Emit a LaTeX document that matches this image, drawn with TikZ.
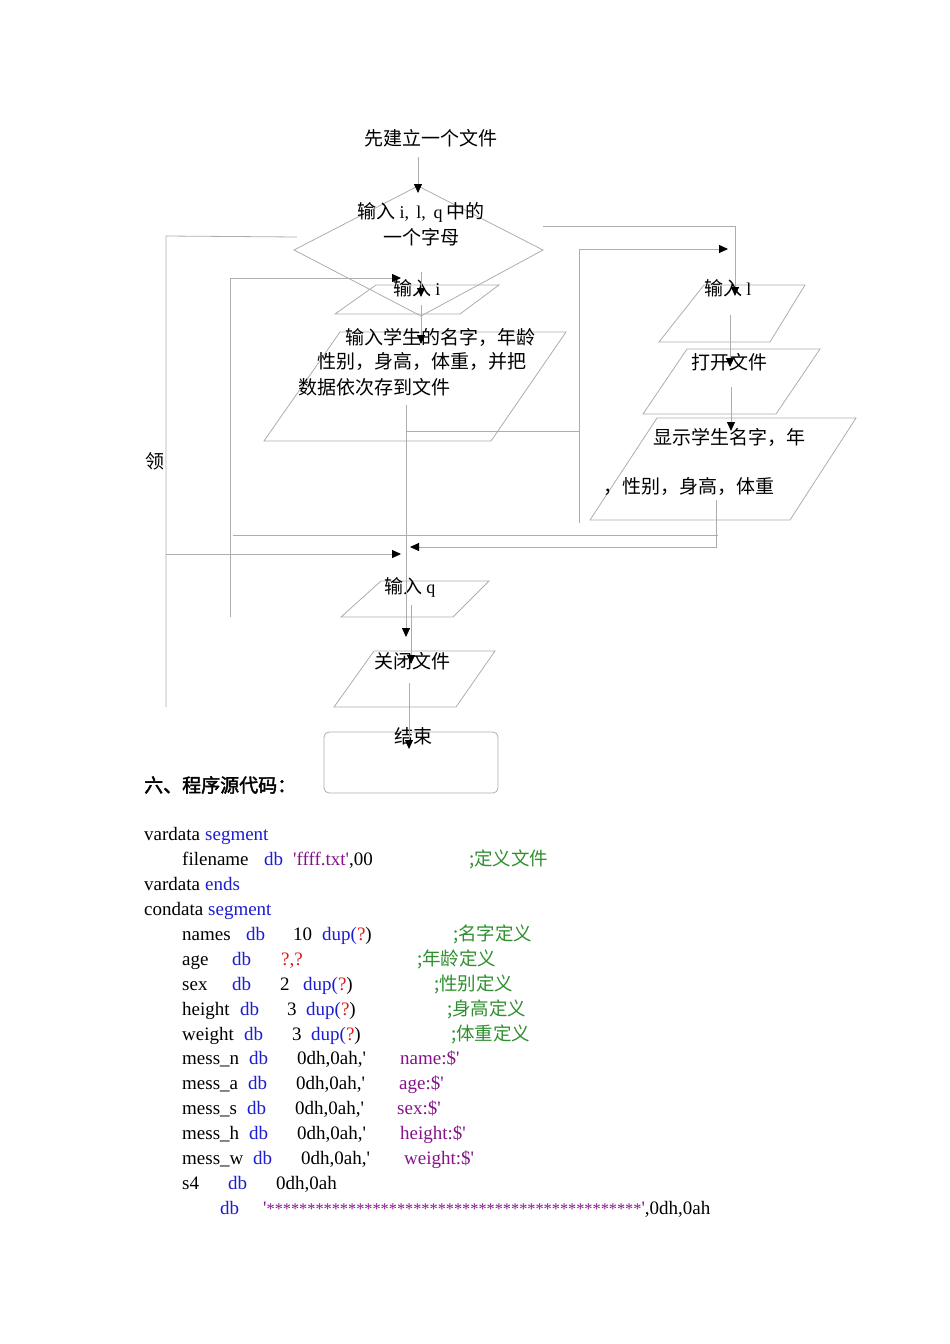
\documentclass[tikz,border=0pt]{standalone}
\usepackage{fontspec}
\setmainfont{Liberation Serif}[Ligatures=TeXOff]
\newfontfamily\cjk{Noto Sans CJK SC}
\newfontfamily\cjkbold[FakeBold=2]{Noto Sans CJK SC}
\newfontfamily\lat{Liberation Serif}[Ligatures=TeXOff]
\usetikzlibrary{arrows.meta}
\definecolor{ln}{HTML}{ADADAD}
\definecolor{kw}{HTML}{1C1CD0}
\definecolor{st}{HTML}{85128A}
\definecolor{cm}{HTML}{2F8F2F}
\definecolor{qm}{HTML}{E01818}
\tikzset{
  wire/.style={draw=ln,line width=0.8pt},
  arr/.style={wire,-{Triangle[length=9pt,width=8pt,color=black]}},
  shapeline/.style={draw=ln,line width=0.8pt},
  ftxt/.style={inner sep=0pt,font=\cjk\fontsize{19}{22}\selectfont},
  ftxtw/.style={ftxt,anchor=west},
  code/.style={anchor=west,inner sep=0pt,font=\fontsize{19}{22}\selectfont,text height=13pt,text depth=4pt},
  cmt/.style={code,font=\cjk\fontsize{18.5}{21}\selectfont,text=cm},
}
\newcommand\dupq{\textcolor{kw}{dup(}\textcolor{qm}{?})}
\newcommand\fl[1]{{\lat\fontsize{18}{20}\selectfont #1}}
\begin{document}
\begin{tikzpicture}[x=1pt,y=-1pt]
\useasboundingbox (0,0) rectangle (950,1344);
% ---------- shapes ----------
\coordinate (dT) at (418,186); \coordinate (dL) at (294,250);
\coordinate (dR) at (543,250); \coordinate (dB) at (421,316);
\draw[shapeline] (dT) -- (dR) -- (dB) -- (dL) -- cycle;
\draw[shapeline] (376,285) -- (499,285) -- (460,314) -- (335,314) -- cycle;
\draw[shapeline] (340,332) -- (566,332) -- (491,441) -- (264,441) -- cycle;
\draw[shapeline] (704,285) -- (805,285) -- (770,342) -- (659,342) -- cycle;
\draw[shapeline] (687,349) -- (820,349) -- (776,414) -- (643,414) -- cycle;
\draw[shapeline] (657,418) -- (856,418) -- (790,520) -- (590,520) -- cycle;
\draw[shapeline] (381,581) -- (489,581) -- (453,617) -- (341,617) -- cycle;
\draw[shapeline] (374,651) -- (495,651) -- (456,707) -- (334,707) -- cycle;
\draw[shapeline,rounded corners=5pt] (324,732) rectangle (498,793);
% ---------- texts ----------
\node[ftxt] (start) at (431,138) {先建立一个文件};
\node[ftxt] (dec1) at (421,212) {输入\ \fl{i,\ \,l,\ \,q}\ 中的};
\node[ftxt] (dec2) at (421,237) {一个字母};
\node[ftxtw] (ini) at (393,288) {输入\ \fl{i}};
\node[ftxtw] (stu1) at (345,337) {输入学生的名字，年龄};
\node[ftxtw] (stu2) at (317,362) {性别，身高，体重，并把};
\node[ftxtw] (stu3) at (298,387) {数据依次存到文件};
\node[ftxtw] (inl) at (704,288) {输入\ \fl{l}};
\node[ftxtw] (open) at (691,362) {打开文件};
\node[ftxtw] (disp1) at (653,437) {显示学生名字，年};
\node[ftxtw] (disp2) at (603,487) {，性别，身高，体重};
\node[ftxtw] (inq) at (384,587) {输入\ \fl{q}};
\node[ftxtw] (close) at (374,661) {关闭文件};
\node[ftxtw] (fin) at (394,736) {结束};
\node[ftxtw] (ling) at (145,461) {领};
\node[anchor=west,inner sep=0pt,font=\cjkbold\fontsize{19}{22}\selectfont] (sec) at (144,785) {六、程序源代码：};
% ---------- connector points ----------
\coordinate (a0) at (418,157); \coordinate (a1) at (418,193);
\coordinate (l0) at (297,237); \coordinate (l1) at (166,236); \coordinate (l2) at (166,707);
\coordinate (l3) at (166,554); \coordinate (l4) at (401,554);
\coordinate (m0) at (230,617); \coordinate (m1) at (230,278); \coordinate (m2) at (401,278);
\coordinate (b0) at (421,272); \coordinate (b1) at (421,297);
\coordinate (c0) at (421,305); \coordinate (c1) at (421,344);
\coordinate (e0) at (406,405); \coordinate (e1) at (406,637);
\coordinate (f0) at (406,431); \coordinate (f1) at (580,431);
\coordinate (r0) at (543,226); \coordinate (r1) at (735,226); \coordinate (r2) at (735,296);
\coordinate (s0) at (579,523); \coordinate (s1) at (579,249); \coordinate (s2) at (728,249);
\coordinate (o0) at (730,315); \coordinate (o1) at (730,367);
\coordinate (p0) at (731,387); \coordinate (p1) at (731,431);
\coordinate (u0) at (716,500); \coordinate (u1) at (716,548); \coordinate (u3) at (716,547); \coordinate (u2) at (410,547);
\coordinate (v0) at (233,535); \coordinate (v1) at (718,535);
\coordinate (q0) at (411,605); \coordinate (q1) at (411,664);
\coordinate (w0) at (409,683); \coordinate (w1) at (409,749);
% ---------- connectors ----------
\draw[arr] (a0) -- (a1);
\draw[wire] (l0) -- (l1) -- (l2);
\draw[arr] (l3) -- (l4);
\draw[arr] (m0) -- (m1) -- (m2);
\draw[arr] (b0) -- (b1);
\draw[arr] (c0) -- (c1);
\draw[arr] (e0) -- (e1);
\draw[wire] (f0) -- (f1);
\draw[arr] (r0) -- (r1) -- (r2);
\draw[arr] (s0) -- (s1) -- (s2);
\draw[arr] (o0) -- (o1);
\draw[arr] (p0) -- (p1);
\draw[wire] (u0) -- (u1);
\draw[arr] (u3) -- (u2);
\draw[wire] (v0) -- (v1);
\draw[arr] (q0) -- (q1);
\draw[arr] (w0) -- (w1);
% ---------- code ----------
\begin{scope}[yshift=-2pt]
\node[code] (c1a) at (144,834) {vardata};
\node[code,text=kw] (c1b) at (205,834) {segment};
\node[code] (c2a) at (182,859) {filename};
\node[code,text=kw] (c2b) at (264,859) {db};
\node[code] (c2c) at (293,859) {\textcolor{st}{'ffff.txt'},00};
\node[cmt] (c2d) at (469,859) {;定义文件};
\node[code] (c3a) at (144,884) {vardata};
\node[code,text=kw] (c3b) at (205,884) {ends};
\node[code] (c4a) at (144,909) {condata};
\node[code,text=kw] (c4b) at (208,909) {segment};
\node[code] (c5a) at (182,934) {names};
\node[code,text=kw] (c5b) at (246,934) {db};
\node[code] (c5c) at (293,934) {10};
\node[code] (c5d) at (322,934) {\dupq};
\node[cmt] (c5e) at (453,934) {;名字定义};
\node[code] (c6a) at (182,959) {age};
\node[code,text=kw] (c6b) at (232,959) {db};
\node[code,text=qm] (c6c) at (281,959) {?,?};
\node[cmt] (c6d) at (417,959) {;年龄定义};
\node[code] (c7a) at (182,984) {sex};
\node[code,text=kw] (c7b) at (232,984) {db};
\node[code] (c7c) at (280,984) {2};
\node[code] (c7d) at (303,984) {\dupq};
\node[cmt] (c7e) at (434,984) {;性别定义};
\node[code] (c8a) at (182,1009) {height};
\node[code,text=kw] (c8b) at (240,1009) {db};
\node[code] (c8c) at (287,1009) {3};
\node[code] (c8d) at (306,1009) {\dupq};
\node[cmt] (c8e) at (447,1009) {;身高定义};
\node[code] (c9a) at (182,1034) {weight};
\node[code,text=kw] (c9b) at (244,1034) {db};
\node[code] (c9c) at (292,1034) {3};
\node[code] (c9d) at (311,1034) {\dupq};
\node[cmt] (c9e) at (451,1034) {;体重定义};
\node[code] (c10a) at (182,1058) {mess\_n};
\node[code,text=kw] (c10b) at (249,1058) {db};
\node[code] (c10c) at (297,1058) {0dh,0ah,'};
\node[code,text=st] (c10d) at (400,1058) {name:\$'};
\node[code] (c11a) at (182,1083) {mess\_a};
\node[code,text=kw] (c11b) at (248,1083) {db};
\node[code] (c11c) at (296,1083) {0dh,0ah,'};
\node[code,text=st] (c11d) at (399,1083) {age:\$'};
\node[code] (c12a) at (182,1108) {mess\_s};
\node[code,text=kw] (c12b) at (247,1108) {db};
\node[code] (c12c) at (295,1108) {0dh,0ah,'};
\node[code,text=st] (c12d) at (397,1108) {sex:\$'};
\node[code] (c13a) at (182,1133) {mess\_h};
\node[code,text=kw] (c13b) at (249,1133) {db};
\node[code] (c13c) at (297,1133) {0dh,0ah,'};
\node[code,text=st] (c13d) at (400,1133) {height:\$'};
\node[code] (c14a) at (182,1158) {mess\_w};
\node[code,text=kw] (c14b) at (253,1158) {db};
\node[code] (c14c) at (301,1158) {0dh,0ah,'};
\node[code,text=st] (c14d) at (404,1158) {weight:\$'};
\node[code] (c15a) at (182,1183) {s4};
\node[code,text=kw] (c15b) at (228,1183) {db};
\node[code] (c15c) at (276,1183) {0dh,0ah};
\node[code,text=kw] (c16a) at (220,1208) {db};
\node[code] (c16b) at (263,1208) {\textcolor{st}{'{\fontsize{16.3}{20}\selectfont **********************************************}'},0dh,0ah};
\end{scope}
\end{tikzpicture}
\end{document}
